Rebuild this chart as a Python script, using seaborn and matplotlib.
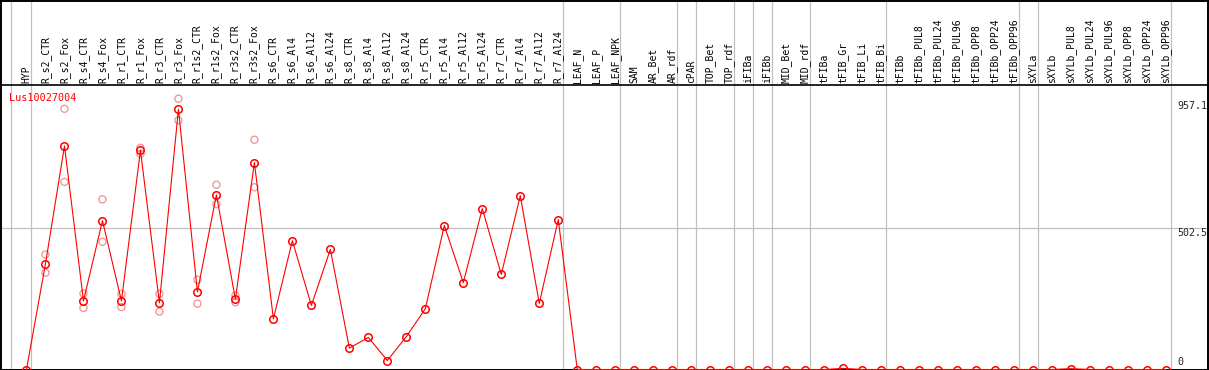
"""
Expression profile for Lus10027004 across the flax sample set (eFP style).
Mean per sample as a red line, individual replicates as pale circles.
"""
import matplotlib
matplotlib.use("Agg")
import matplotlib.pyplot as plt
import numpy as np
import pandas as pd
import seaborn as sns

OUT_PATH = "out.png"
GENE = "Lus10027004"

samples = [
    "HYP",
    "R_s2_CTR", "R_s2_Fox", "R_s4_CTR", "R_s4_Fox", "R_r1_CTR", "R_r1_Fox",
    "R_r3_CTR", "R_r3_Fox", "R_r1s2_CTR", "R_r1s2_Fox", "R_r3s2_CTR", "R_r3s2_Fox",
    "R_s6_CTR", "R_s6_Al4", "R_s6_Al12", "R_s6_Al24",
    "R_s8_CTR", "R_s8_Al4", "R_s8_Al12", "R_s8_Al24",
    "R_r5_CTR", "R_r5_Al4", "R_r5_Al12", "R_r5_Al24",
    "R_r7_CTR", "R_r7_Al4", "R_r7_Al12", "R_r7_Al24",
    "LEAF_N", "LEAF_P", "LEAF_NPK",
    "SAM", "AR_Bet", "AR_rdf", "cPAR", "TOP_Bet", "TOP_rdf",
    "iFIBa", "iFIBb", "MID_Bet", "MID_rdf",
    "tFIBa", "tFIB_Gr", "tFIB_Li", "tFIB_Bi",
    "tFIBb", "tFIBb_PUL8", "tFIBb_PUL24", "tFIBb_PUL96",
    "tFIBb_OPP8", "tFIBb_OPP24", "tFIBb_OPP96",
    "sXYLa", "sXYLb", "sXYLb_PUL8", "sXYLb_PUL24", "sXYLb_PUL96",
    "sXYLb_OPP8", "sXYLb_OPP24", "sXYLb_OPP96",
]

mean_expr = [
    0,
    376, 795, 244, 529, 244, 779, 237, 925, 276, 621, 250, 736,
    180, 458, 228, 427,
    76, 114, 32, 117,
    216, 512, 309, 572,
    338, 618, 235, 533,
    0, 0, 0,
    0, 0, 0, 0, 0, 0,
    0, 0, 0, 0,
    0, 4, 0, 0,
    0, 0, 0, 0, 0, 0, 0,
    0, 0, 3, 0, 0, 0, 0, 0,
]

# replicate values, only the early root samples have visible replicates
rep_samples = samples[1:13]
rep_1 = [409, 927, 270, 605, 269, 788, 269, 963, 319, 657, 263, 817]
rep_2 = [344, 667, 219, 454, 222, 767, 206, 886, 234, 588, 239, 648]

# sample groups, a separator line is drawn after each one
group_sizes = [1, 28, 3, 3, 1, 2, 1, 1, 2, 4, 7, 1, 7]

HEADER_Y = 1010   # data value of the black line under the sample names
Y_TOP = 1312

RED = "#ff0000"
PALE = "#f09a9a"
GRID = "#c0c0c0"


def main():
    sns.set_style("white")
    plt.rcParams["font.family"] = ["DejaVu Sans Mono", "DejaVu Sans"]

    pos = {s: i for i, s in enumerate(samples)}
    df = pd.DataFrame({"x": np.arange(len(samples)), "expr": mean_expr})
    reps = pd.DataFrame({
        "x": [pos[s] for s in rep_samples] * 2,
        "expr": rep_1 + rep_2,
    })

    fig = plt.figure(figsize=(12.09, 3.70), dpi=100)
    ax = fig.add_axes([0.5 / 1209, 0.5 / 370, 1207.5 / 1209, 369 / 370])
    ax.set_xlim((0 - 26) / 19, (1208 - 26) / 19)
    ax.set_ylim(0, Y_TOP)

    # separators
    ax.axvline(-0.84, color=GRID, lw=0.9, zorder=0)
    for end in np.cumsum(group_sizes) - 1:
        ax.axvline(end + 0.25, color=GRID, lw=0.9, zorder=0)
    ax.axhline(502.5, color=GRID, lw=0.9, zorder=0)
    ax.axhline(HEADER_Y, color="black", lw=1.2, zorder=1)

    sns.scatterplot(data=reps, x="x", y="expr", ax=ax, marker="o", s=26,
                    facecolor="none", edgecolor=PALE, linewidth=1.0, zorder=2,
                    legend=False)
    sns.lineplot(data=df, x="x", y="expr", ax=ax, color=RED, lw=0.8,
                 marker="o", markersize=5.4, markerfacecolor="none",
                 markeredgecolor=RED, markeredgewidth=1.1, zorder=3,
                 clip_on=False)

    for i, s in enumerate(samples):
        ax.text(i, 1018, s, rotation=90, ha="center", va="bottom",
                fontsize=7, color="black")

    ax.text(-0.9, 967, GENE, color=RED, fontsize=7.3, ha="left", va="center")

    tick_x = (1177.5 - 26) / 19
    ax.text(tick_x, 955, "957.1", fontsize=7.2, ha="left", va="top")
    ax.text(tick_x, 502.5, "502.5", fontsize=7.2, ha="left", va="top")
    ax.text(tick_x, 8, "0", fontsize=7.2, ha="left", va="bottom")

    ax.set_xticks([])
    ax.set_yticks([])
    ax.set_xlabel("")
    ax.set_ylabel("")
    for sp in ax.spines.values():
        sp.set_visible(True)
        sp.set_color("black")
        sp.set_linewidth(1.4)

    fig.savefig(OUT_PATH, dpi=100)


if __name__ == "__main__":
    main()
